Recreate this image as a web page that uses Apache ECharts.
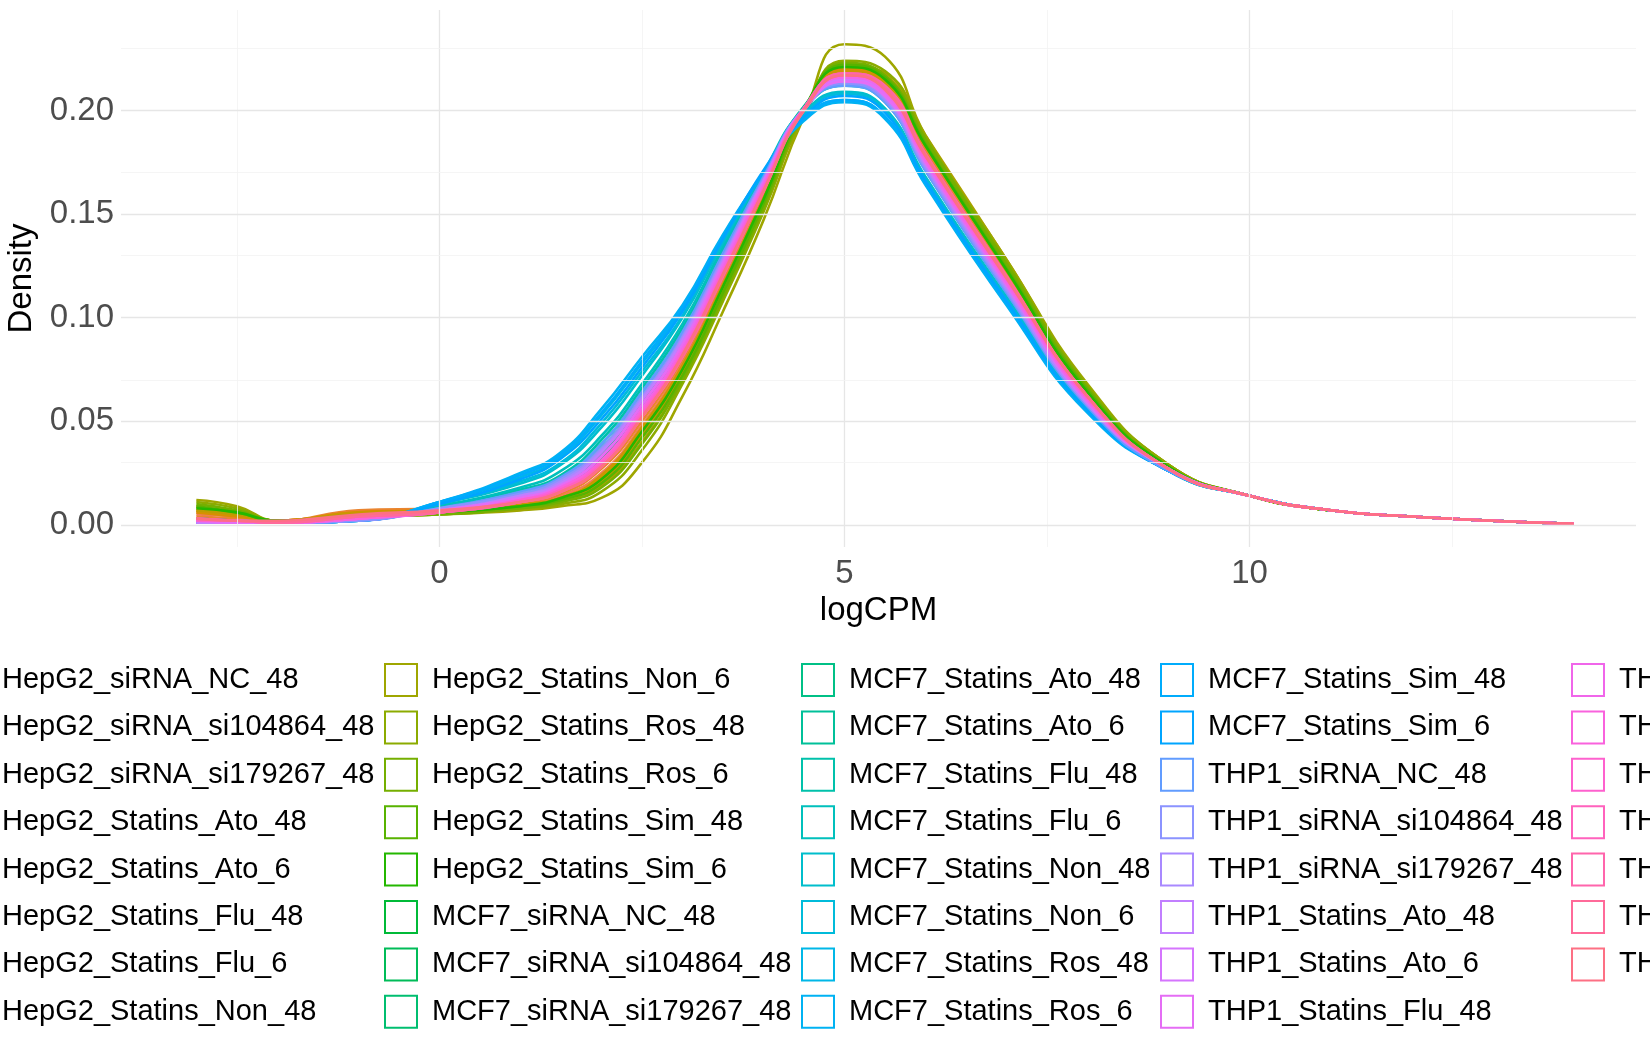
<!DOCTYPE html>
<html>
<head>
<meta charset="utf-8">
<script src="https://cdn.jsdelivr.net/npm/echarts@6/dist/echarts.min.js"></script>
<style>
  html, body { margin: 0; padding: 0; background: #fff; }
  #chart { width: 1650px; height: 1050px; }
</style>
</head>
<body>
<div id="chart"></div>
<script>
// logCPM grid points where density was read
var xs = [-3, -2.5, -2, -1, 0, 1, 1.5, 2, 2.5, 3, 3.5, 4, 4.5, 5, 5.5, 6, 7, 8, 9, 10, 11, 12, 13, 14];

var sampleNames = [
  'HepG2_siRNA_NC_48', 'HepG2_siRNA_si104864_48', 'HepG2_siRNA_si179267_48', 'HepG2_Statins_Ato_48',
  'HepG2_Statins_Ato_6', 'HepG2_Statins_Flu_48', 'HepG2_Statins_Flu_6', 'HepG2_Statins_Non_48',
  'HepG2_Statins_Non_6', 'HepG2_Statins_Ros_48', 'HepG2_Statins_Ros_6', 'HepG2_Statins_Sim_48',
  'HepG2_Statins_Sim_6', 'MCF7_siRNA_NC_48', 'MCF7_siRNA_si104864_48', 'MCF7_siRNA_si179267_48',
  'MCF7_Statins_Ato_48', 'MCF7_Statins_Ato_6', 'MCF7_Statins_Flu_48', 'MCF7_Statins_Flu_6',
  'MCF7_Statins_Non_48', 'MCF7_Statins_Non_6', 'MCF7_Statins_Ros_48', 'MCF7_Statins_Ros_6',
  'MCF7_Statins_Sim_48', 'MCF7_Statins_Sim_6', 'THP1_siRNA_NC_48', 'THP1_siRNA_si104864_48',
  'THP1_siRNA_si179267_48', 'THP1_Statins_Ato_48', 'THP1_Statins_Ato_6', 'THP1_Statins_Flu_48',
  'THP1_Statins_Flu_6', 'THP1_Statins_Non_48', 'THP1_Statins_Non_6', 'THP1_Statins_Ros_48',
  'THP1_Statins_Ros_6', 'THP1_Statins_Sim_48', 'THP1_Statins_Sim_6'
];

// density values in thousandths, one row per sample, aligned with xs
var densityPermille = [
  [6,4,2,6,7,11,16,28,52,82,120,160,200,218,211,180,120,62,27,14,7,4,2,0.5],
  [5,4,2,6,7,10,14,25,48,78,117,158,199,219,213,182,122,63,27,14,7,4,2,0.5],
  [4,3,2,7,8,11,15,27,50,80,119,160,201,220,212,181,121,63,28,14,7,4,2,0.5],
  [7,5,2,6,7,9,12,22,44,74,113,155,198,221,215,185,125,66,28,14,7,4,2,0.5],
  [6,4,2,5,6,9,13,23,46,76,115,157,199,220,214,184,124,65,28,14,7,4,2,0.5],
  [8,6,2,6,7,10,13,24,47,77,116,157,199,219,213,183,123,64,28,14,7,4,2,0.5],
  [7,5,2,5,6,9,12,21,43,73,112,154,198,222,217,187,127,67,29,14,7,4,2,0.5],
  [9,6,2,5,6,8,11,19,40,70,109,152,197,222,218,188,128,67,29,14,7,4,2,0.5],
  [12,9,2,4,5,7,9,13,30,62,103,147,197,232,226,188,128,68,29,14,7,4,2,0.5],
  [11,8,2,4,5,8,10,16,36,68,108,151,198,224,219,187,127,67,29,14,7,4,2,0.5],
  [10,7,2,4,5,8,11,18,39,70,110,153,199,223,217,186,126,66,28,14,7,4,2,0.5],
  [9,6,2,4,6,9,12,20,42,72,112,155,200,222,216,184,124,65,28,14,7,4,2,0.5],
  [8,6,2,4,6,9,13,22,45,75,115,157,201,221,215,183,123,64,28,14,7,4,2,0.5],
  [3,2,1,3,7,13,19,32,57,86,124,163,200,217,210,178,119,62,27,14,7,4,2,0.5],
  [3,2,1,3,7,14,20,34,59,88,126,165,201,216,209,177,118,61,27,14,7,4,2,0.5],
  [2,2,1,3,8,15,21,36,61,90,128,166,201,215,208,175,116,60,27,14,7,4,2,0.5],
  [2,2,1,3,8,15,22,37,62,91,129,167,202,215,207,174,115,59,27,14,7,4,2,0.5],
  [2,1,1,3,8,16,23,39,64,93,131,168,201,214,206,173,114,58,26,14,7,4,2,0.5],
  [2,1,1,3,9,17,24,41,66,95,132,169,201,213,205,172,113,58,26,14,7,4,2,0.5],
  [2,1,1,2,9,18,26,43,68,97,134,170,201,212,204,171,112,57,26,14,7,4,2,0.5],
  [1,1,1,2,10,20,29,47,72,100,136,170,199,209,201,168,110,56,26,14,7,4,2,0.5],
  [1,1,1,2,10,21,30,49,74,101,137,170,198,208,200,167,109,56,26,14,7,4,2,0.5],
  [1,1,1,2,11,23,33,53,78,104,139,170,196,205,197,165,107,55,26,14,7,4,2,0.5],
  [1,1,1,2,11,25,35,56,81,106,140,170,195,204,196,164,106,54,26,14,7,4,2,0.5],
  [1,1,1,2,11,24,34,54,79,105,139,170,196,205,197,165,107,55,26,14,7,4,2,0.5],
  [1,1,1,2,10,22,32,51,76,103,138,171,197,207,199,166,108,55,26,14,7,4,2,0.5],
  [1,1,1,2,8,16,23,39,64,93,131,168,201,212,204,171,112,57,26,14,7,4,2,0.5],
  [1,1,1,2,8,15,22,37,62,91,129,167,201,213,205,172,113,58,27,14,7,4,2,0.5],
  [1,1,1,3,7,14,21,36,61,90,128,166,201,214,206,173,114,58,27,14,7,4,2,0.5],
  [1,1,1,3,7,14,20,35,60,89,127,166,201,215,207,174,115,59,27,14,7,4,2,0.5],
  [2,1,1,3,7,13,19,33,58,87,125,165,201,215,208,175,116,59,27,14,7,4,2,0.5],
  [2,1,1,3,7,13,19,33,58,87,126,165,200,214,207,175,116,60,27,14,7,4,2,0.5],
  [2,2,1,3,6,12,18,31,56,85,124,164,201,216,209,176,117,60,27,14,7,4,2,0.5],
  [2,2,1,3,6,12,18,31,55,84,123,163,201,217,210,177,118,61,27,14,7,4,2,0.5],
  [2,2,1,4,6,12,17,30,54,83,122,162,201,217,211,178,119,61,27,14,7,4,2,0.5],
  [3,2,1,4,6,11,17,29,53,82,121,162,201,218,211,178,119,62,27,14,7,4,2,0.5],
  [3,2,1,4,6,11,16,28,52,81,120,161,201,218,212,179,120,62,27,14,7,4,2,0.5],
  [3,2,1,4,6,11,16,28,52,81,120,161,200,217,211,179,120,62,27,14,7,4,2,0.5],
  [3,2,2,5,7,11,16,28,52,82,121,161,200,217,210,178,119,62,27,14,7,4,2,0.5]
];

var xTicks = [0, 5, 10];
var yTicks = [0, 0.05, 0.10, 0.15, 0.20];
var xGrid = [-2.5, 0, 2.5, 5, 7.5, 10, 12.5];
var yGrid = [0, 0.025, 0.05, 0.075, 0.1, 0.125, 0.15, 0.175, 0.2, 0.225];

// ggplot-style hue palette (polarLUV, l=65, c=100)
function hcl(h, c, l) {
  var hr = h * Math.PI / 180;
  var u = c * Math.cos(hr), v = c * Math.sin(hr);
  var Xn = 95.047, Yn = 100, Zn = 108.883;
  var den = Xn + 15 * Yn + 3 * Zn;
  var un = 4 * Xn / den, vn = 9 * Yn / den;
  var Y = Yn * Math.pow((l + 16) / 116, 3);
  var up = u / (13 * l) + un, vp = v / (13 * l) + vn;
  var X = Y * 9 * up / (4 * vp);
  var Z = Y * (12 - 3 * up - 20 * vp) / (4 * vp);
  X /= 100; Y /= 100; Z /= 100;
  var rgb = [
    3.2406 * X - 1.5372 * Y - 0.4986 * Z,
    -0.9689 * X + 1.8758 * Y + 0.0415 * Z,
    0.0557 * X - 0.2040 * Y + 1.0570 * Z
  ].map(function (c) {
    c = c <= 0.0031308 ? 12.92 * c : 1.055 * Math.pow(c, 1 / 2.4) - 0.055;
    c = Math.round(Math.max(0, Math.min(1, c)) * 255);
    return ('0' + c.toString(16)).slice(-2);
  });
  return '#' + rgb.join('');
}

var n = sampleNames.length;
var colors = sampleNames.map(function (_, i) { return hcl(15 + 360 * i / n, 100, 65); });

var series = sampleNames.map(function (name, i) {
  return {
    name: name,
    type: 'line',
    smooth: 0.5,
    showSymbol: false,
    silent: true,
    color: colors[i],
    lineStyle: { width: 2.6, color: colors[i] },
    data: xs.map(function (x, k) { return [x, densityPermille[i][k] / 1000]; })
  };
});

// gridlines as markLines on an empty series
series.unshift({
  type: 'line', data: [], silent: true,
  markLine: {
    symbol: 'none', silent: true, label: { show: false },
    data: xGrid.map(function (v) {
      var major = v % 5 === 0;
      return { xAxis: v, lineStyle: { color: major ? '#e6e6e6' : '#f2f2f2', width: major ? 1.3 : 0.8, type: 'solid' } };
    }).concat(yGrid.map(function (v) {
      var major = Math.abs(v * 20 - Math.round(v * 20)) < 1e-6;
      return { yAxis: v, lineStyle: { color: major ? '#e6e6e6' : '#f2f2f2', width: major ? 1.3 : 0.8, type: 'solid' } };
    }))
  }
});

var colLefts = [-51, 379, 796, 1155, 1566];
var legends = colLefts.map(function (left, c) {
  return {
    orient: 'vertical',
    left: left,
    top: 658,
    height: 420,
    icon: 'rect',
    itemWidth: 32,
    itemHeight: 32,
    itemGap: 13.4,
    selectedMode: false,
    textStyle: { fontSize: 29, lineHeight: 30, color: '#000', fontFamily: 'Liberation Sans', padding: [0, 0, 0, 10] },
    data: sampleNames.slice(c * 8, c * 8 + 8).map(function (name, k) {
      return {
        name: name,
        itemStyle: { color: 'rgba(0,0,0,0)', borderColor: colors[c * 8 + k], borderWidth: 2 }
      };
    })
  };
});

var chart = echarts.init(document.getElementById('chart'));
chart.setOption({
  animation: false,
  backgroundColor: '#fff',
  grid: { left: 121, right: 14, top: 10, bottom: 503, containLabel: false, outerBoundsMode: 'none' },
  legend: legends,
  xAxis: {
    type: 'value', min: -3.93, max: 14.77,
    name: 'logCPM', nameLocation: 'middle', nameGap: 45,
    nameTextStyle: { fontSize: 33, color: '#000', fontFamily: 'Liberation Sans' },
    axisLine: { show: false }, axisTick: { show: false }, splitLine: { show: false },
    axisLabel: { customValues: xTicks, fontSize: 33, color: '#4d4d4d', margin: 10, fontFamily: 'Liberation Sans' }
  },
  yAxis: {
    type: 'value', min: -0.0107, max: 0.2485,
    name: 'Density', nameLocation: 'middle', nameGap: 78, nameRotate: 90,
    nameTextStyle: { fontSize: 33, color: '#000', fontFamily: 'Liberation Sans' },
    axisLine: { show: false }, axisTick: { show: false }, splitLine: { show: false },
    axisLabel: {
      customValues: yTicks, fontSize: 33, color: '#4d4d4d', margin: 7, fontFamily: 'Liberation Sans',
      formatter: function (v) { return v.toFixed(2); }
    }
  },
  series: series
});
</script>
</body>
</html>
